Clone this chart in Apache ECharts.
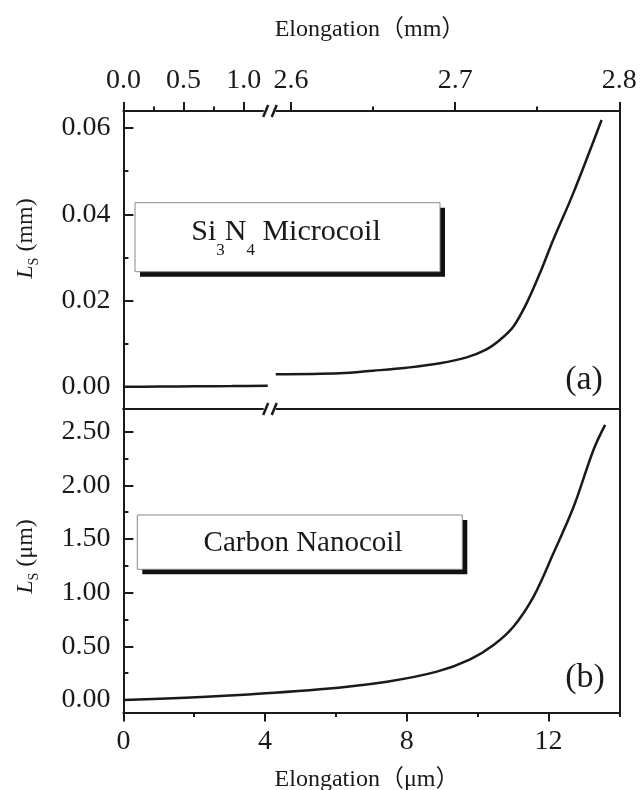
<!DOCTYPE html>
<html>
<head>
<meta charset="utf-8">
<script src="https://cdn.jsdelivr.net/npm/echarts@6/dist/echarts.min.js"></script>
<style>
html, body { margin: 0; padding: 0; background: #fff; }
#chart { width: 640px; height: 790px; }
</style>
</head>
<body>
<div id="chart"></div>
<script>
// (a) Si3N4 microcoil, elongation in mm (broken axis), Ls in mm
const microLowX = [0, 0.3, 0.6, 0.9, 1.2];
const microLowY = [0, 0.00003, 0.00008, 0.00015, 0.00025];
const microHighX = [2.5907, 2.6298, 2.65, 2.6704, 2.6907, 2.707, 2.7191, 2.7272, 2.7354, 2.7435, 2.7516, 2.7597, 2.7719, 2.7892];
const microHighY = [0.00288, 0.00311, 0.00371, 0.00441, 0.00543, 0.00682, 0.00868, 0.01084, 0.01392, 0.01935, 0.02631, 0.03404, 0.04487, 0.0619];

// (b) carbon nanocoil, elongation in um, Ls in um
const nanoX = [0, 2.73, 5.55, 7.44, 8.85, 9.79, 10.45, 11.01, 11.58, 12.14, 12.71, 13.27, 13.6];
const nanoY = [0, 0.037, 0.1, 0.171, 0.264, 0.379, 0.513, 0.683, 0.963, 1.367, 1.8, 2.33, 2.563];

// ticks
const mmLowTicks = [0, 0.5, 1.0];
const mmLowMinor = [0.25, 0.75];
const mmHighTicks = [2.6, 2.7, 2.8];
const mmHighMinor = [2.65, 2.75];
const umTicks = [0, 4, 8, 12];
const umMinor = [2, 6, 10, 14];
const lsMmTicks = [0, 0.02, 0.04, 0.06];
const lsMmMinor = [0.01, 0.03, 0.05];
const lsUmTicks = [0, 0.5, 1.0, 1.5, 2.0, 2.5];
const lsUmMinor = [0.25, 0.75, 1.25, 1.75, 2.25];

// frame layout (px)
const L = 123.4, R = 619.3, BX = 268.7, T = 110.9, MID = 409, B = 712.4;

const ink = "#1a1a1a";
const serif = '"Liberation Serif", "Noto Sans CJK SC", serif';

function zip(xs, ys) {
	return xs.map((x, i) => [x, ys[i]]);
}

function frameAxis(gridIndex, position, min, max) {
	return {
		type: "value",
		gridIndex: gridIndex,
		position: position,
		min: min,
		max: max,
		axisLine: { show: true, onZero: false, lineStyle: { color: ink, width: 2 } },
		axisTick: { show: false },
		axisLabel: { show: false },
		splitLine: { show: false },
	};
}

function tickAxis(gridIndex, position, min, max, ticks, len, inside, fmt, margin) {
	let ax = frameAxis(gridIndex, position, min, max);
	ax.axisLine.show = !!fmt;
	ax.axisTick = {
		show: true,
		inside: inside,
		length: len,
		customValues: ticks,
		lineStyle: { color: ink, width: 2 },
	};
	if (fmt) {
		ax.axisLabel = {
			show: true,
			customValues: ticks,
			formatter: fmt,
			margin: margin,
			fontSize: 28,
			fontFamily: serif,
			color: ink,
		};
	}
	return ax;
}

const mmLowRange = [0, 1.208];
const mmHighRange = [2.5864, 2.8];
const lsMmRange = [-0.00517, 0.064];
const lsUmRange = [-0.1156, 2.7115];

function fix1(v) { return v.toFixed(1); }
function fix2(v) { return v.toFixed(2); }
function int0(v) { return String(Math.round(v)); }

function breakMark(cx, cy) {
	return [
		{ type: "rect", z: 100, shape: { x: cx - 6, y: cy - 3, width: 12, height: 6 }, style: { fill: "#fff" } },
		{ type: "line", z: 101, shape: { x1: cx - 6.5, y1: cy + 6, x2: cx - 1.5, y2: cy - 6 }, style: { stroke: ink, lineWidth: 2.5 } },
		{ type: "line", z: 101, shape: { x1: cx + 2, y1: cy + 6, x2: cx + 7, y2: cy - 6 }, style: { stroke: ink, lineWidth: 2.5 } },
	];
}

function labelBox(x, y, w, h) {
	return [
		{ type: "rect", z: 90, shape: { x: x + 5, y: y + 5, width: w, height: h }, style: { fill: "#111" } },
		{ type: "rect", z: 91, shape: { x: x, y: y, width: w, height: h }, style: { fill: "#fff", stroke: "#888", lineWidth: 1 } },
	];
}

const lineStyle = { color: ink, width: 2.5 };

let chart = echarts.init(document.getElementById("chart"));
chart.setOption({
	animation: false,
	backgroundColor: "#fff",
	grid: [
		{ left: L, top: T, width: BX - L, height: MID - T, outerBoundsMode: "none" },
		{ left: BX, top: T, width: R - BX, height: MID - T, outerBoundsMode: "none" },
		{ left: L, top: MID, width: R - L, height: B - MID, outerBoundsMode: "none" },
	],
	xAxis: [
		tickAxis(0, "top", mmLowRange[0], mmLowRange[1], mmLowTicks, 9, false, fix1, 16),
		tickAxis(0, "top", mmLowRange[0], mmLowRange[1], mmLowMinor, 4.5, false),
		frameAxis(0, "bottom", mmLowRange[0], mmLowRange[1]),
		tickAxis(1, "top", mmHighRange[0], mmHighRange[1], mmHighTicks, 9, false, fix1, 16),
		tickAxis(1, "top", mmHighRange[0], mmHighRange[1], mmHighMinor, 4.5, false),
		frameAxis(1, "bottom", mmHighRange[0], mmHighRange[1]),
		tickAxis(2, "bottom", 0, 14, umTicks, 9, false, int0, 15),
		tickAxis(2, "bottom", 0, 14, umMinor, 4.5, false),
		frameAxis(2, "top", 0, 14),
	],
	yAxis: [
		tickAxis(0, "left", lsMmRange[0], lsMmRange[1], lsMmTicks, 10, true, fix2, 13),
		tickAxis(0, "left", lsMmRange[0], lsMmRange[1], lsMmMinor, 5, true),
		frameAxis(1, "right", lsMmRange[0], lsMmRange[1]),
		tickAxis(2, "left", lsUmRange[0], lsUmRange[1], lsUmTicks, 10, true, fix2, 13),
		tickAxis(2, "left", lsUmRange[0], lsUmRange[1], lsUmMinor, 5, true),
		frameAxis(2, "right", lsUmRange[0], lsUmRange[1]),
	],
	series: [
		{
			type: "line", xAxisIndex: 0, yAxisIndex: 0,
			data: zip(microLowX, microLowY),
			showSymbol: false, smooth: 0.3, lineStyle: lineStyle,
		},
		{
			type: "line", xAxisIndex: 3, yAxisIndex: 2,
			data: zip(microHighX, microHighY),
			showSymbol: false, smooth: 0.35, lineStyle: lineStyle,
		},
		{
			type: "line", xAxisIndex: 6, yAxisIndex: 3,
			data: zip(nanoX, nanoY),
			showSymbol: false, smooth: 0.35, lineStyle: lineStyle,
		},
	],
	graphic: [].concat(
		breakMark(BX + 1, T),
		breakMark(BX + 1, MID),
		labelBox(135, 202.7, 305, 69),
		labelBox(137.3, 515, 325, 54.3),
		[
			{
				type: "text", z: 95, x: 286, y: 217,
				style: {
					text: "{m|Si}{s|3}{m|N}{s|4}{m| Microcoil}",
					align: "center", verticalAlign: "top",
					rich: {
						m: { fontSize: 30, fontFamily: serif, lineHeight: 36, verticalAlign: "top", fill: ink },
						s: { fontSize: 17, fontFamily: serif, lineHeight: 17, padding: [25, 0, 0, 0], verticalAlign: "top", fill: ink },
					},
				},
			},
			{
				type: "text", z: 95, x: 303, y: 543,
				style: { text: "Carbon Nanocoil", font: "29px " + serif, fill: ink, align: "center", verticalAlign: "middle" },
			},
			{
				type: "text", z: 95, x: 584, y: 380,
				style: { text: "(a)", font: "34px " + serif, fill: ink, align: "center", verticalAlign: "middle" },
			},
			{
				type: "text", z: 95, x: 585, y: 678,
				style: { text: "(b)", font: "34px " + serif, fill: ink, align: "center", verticalAlign: "middle" },
			},
			{
				type: "text", z: 95, x: 370, y: 29.3,
				style: { text: "Elongation（mm）", font: "24px " + serif, fill: ink, align: "center", verticalAlign: "middle" },
			},
			{
				type: "text", z: 95, x: 367, y: 779.5,
				style: { text: "Elongation（μm）", font: "24px " + serif, fill: ink, align: "center", verticalAlign: "middle" },
			},
			{
				type: "text", z: 95, x: 28, y: 238.5, rotation: Math.PI / 2,
				style: {
					text: "{i|L}{s|S}{m| (mm)}",
					align: "center", verticalAlign: "middle",
					rich: {
						i: { fontSize: 24, fontStyle: "italic", fontFamily: serif, lineHeight: 28, verticalAlign: "top", fill: ink },
						m: { fontSize: 24, fontFamily: serif, lineHeight: 28, verticalAlign: "top", fill: ink },
						s: { fontSize: 14, fontFamily: serif, lineHeight: 14, padding: [13, 0, 0, 0], verticalAlign: "top", fill: ink },
					},
				},
			},
			{
				type: "text", z: 95, x: 28, y: 556.5, rotation: Math.PI / 2,
				style: {
					text: "{i|L}{s|S}{m| (μm)}",
					align: "center", verticalAlign: "middle",
					rich: {
						i: { fontSize: 24, fontStyle: "italic", fontFamily: serif, lineHeight: 28, verticalAlign: "top", fill: ink },
						m: { fontSize: 24, fontFamily: serif, lineHeight: 28, verticalAlign: "top", fill: ink },
						s: { fontSize: 14, fontFamily: serif, lineHeight: 14, padding: [13, 0, 0, 0], verticalAlign: "top", fill: ink },
					},
				},
			}
		]
	),
});
</script>
</body>
</html>
